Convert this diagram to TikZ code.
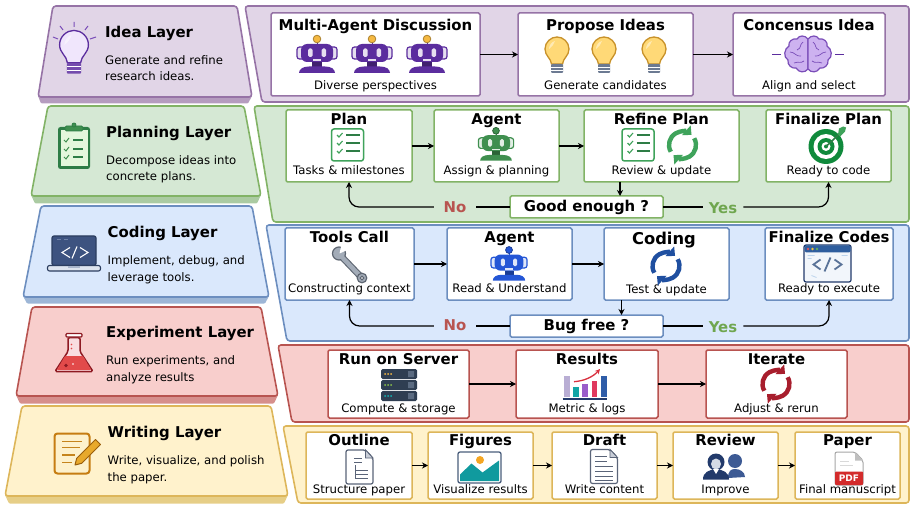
\documentclass[tikz,border=0pt]{standalone}
\usepackage{fontspec}
\setmainfont{DejaVu Sans}
\usepackage{xcolor}
\usetikzlibrary{arrows.meta,positioning,calc}
\definecolor{ideafill}{HTML}{E1D5E7}
\definecolor{ideaedge}{HTML}{9673A6}
\definecolor{ideashade}{HTML}{B59CBF}
\definecolor{planfill}{HTML}{D5E8D4}
\definecolor{planedge}{HTML}{82B366}
\definecolor{planshade}{HTML}{ABCBA2}
\definecolor{codefill}{HTML}{DAE8FC}
\definecolor{codeedge}{HTML}{6C8EBF}
\definecolor{codeshade}{HTML}{9DB6D6}
\definecolor{testfill}{HTML}{F8CECC}
\definecolor{testedge}{HTML}{B85450}
\definecolor{testshade}{HTML}{D68F8C}
\definecolor{writefill}{HTML}{FFF2CC}
\definecolor{writeedge}{HTML}{DDB65A}
\definecolor{writeshade}{HTML}{E6CE87}
\definecolor{nored}{HTML}{B85450}
\definecolor{yesgreen}{HTML}{6FA64F}
\definecolor{botpurple}{HTML}{5B2D9E}
\definecolor{botgreen}{HTML}{3F8F4F}
\definecolor{botblue}{HTML}{2456D6}
\definecolor{ballgold}{HTML}{F5B942}
\definecolor{slategrey}{HTML}{5A6478}
\definecolor{navyblue}{HTML}{223A6B}
\definecolor{tealmark}{HTML}{109A9E}
\definecolor{bulbpale}{HTML}{F0E6FC}
\definecolor{bulbyellow}{HTML}{FFD977}
\definecolor{bulbedge}{HTML}{C8922A}
\definecolor{screwgrey}{HTML}{6C7A92}
\definecolor{clipmint}{HTML}{E4F7DC}
\definecolor{clipdark}{HTML}{2E7D46}
\definecolor{targetgreen}{HTML}{108A3C}
\definecolor{fletchgreen}{HTML}{3FA35B}
\definecolor{wrenchdark}{HTML}{5E6672}
\definecolor{wrenchgrey}{HTML}{A3ACB8}
\definecolor{windowpale}{HTML}{F2F6FB}
\definecolor{windowblue}{HTML}{2F5E9E}
\definecolor{dotred}{HTML}{E0555A}
\definecolor{dotyellow}{HTML}{F0C040}
\definecolor{dotgreen}{HTML}{60B060}
\definecolor{chevronblue}{HTML}{5A7398}
\definecolor{hintblue}{HTML}{BBD3EC}
\definecolor{rackdark}{HTML}{2F3E52}
\definecolor{rackgrey}{HTML}{5A6A80}
\definecolor{ledlime}{HTML}{8BC34A}
\definecolor{ledteal}{HTML}{10B5B5}
\definecolor{barlilac}{HTML}{B9AED4}
\definecolor{barteal}{HTML}{12A5A5}
\definecolor{barviolet}{HTML}{9A5CC9}
\definecolor{barred}{HTML}{E0385E}
\definecolor{barblue}{HTML}{2F5DA8}
\definecolor{trendred}{HTML}{D9303F}
\definecolor{foldgrey}{HTML}{C9CED8}
\definecolor{photoedge}{HTML}{4A5E7C}
\definecolor{sunorange}{HTML}{F5A623}
\definecolor{reviewblue}{HTML}{3D5A94}
\definecolor{facegrey}{HTML}{D5DBE6}
\definecolor{pdfred}{HTML}{D32B2B}
\definecolor{laptopblue}{HTML}{3D5380}
\definecolor{laptopedge}{HTML}{2C3E60}
\definecolor{laptopbar}{HTML}{6F82A8}
\definecolor{laptopbase}{HTML}{DDE4EE}
\definecolor{laptopgrey}{HTML}{A9B6CC}
\definecolor{flaskpale}{HTML}{F9DDE0}
\definecolor{flaskedge}{HTML}{8E1A22}
\definecolor{flaskred}{HTML}{E24A4A}
\definecolor{padpale}{HTML}{FDF1CC}
\definecolor{padedge}{HTML}{C67D12}
\definecolor{padline}{HTML}{C5841C}
\definecolor{pencilgold}{HTML}{E8A92C}
\definecolor{pencildark}{HTML}{9A5F0C}
\definecolor{cycleblue}{HTML}{1F4FA0}
\definecolor{cyclered}{HTML}{A81E2D}
\definecolor{brainfill}{HTML}{CDB2F0}
\definecolor{brainedge}{HTML}{7A4DB8}

\tikzset{
    pics/bot/.style 2 args={code={
        \draw[#1, line width=1pt] (0,-8) -- (0,-14);
        \draw[fill=#2, draw=#2!70!black, line width=.8pt] (0,-15) circle (3.8);
        \draw[#1, line width=1.2pt, fill=#1!15!white, rounded corners=2.5pt] (-20,-7) rectangle (20,5);
        \fill[#1, rounded corners=6pt] (-16,-10) rectangle (16,8);
        \fill[#1!15!white, rounded corners=1.5pt] (-9,-5.5) rectangle (-4.5,3);
        \fill[#1!15!white, rounded corners=1.5pt] (4.5,-5.5) rectangle (9,3);
        \fill[#1!15!white] (-4,5.5) rectangle (4,6.7);
        \fill[#1!70!black] (-5,8) rectangle (5,13);
        \fill[#1] (-18,19) .. controls (-18,15) and (-14,12.5) .. (-8,12.5) -- (8,12.5) .. controls (14,12.5) and (18,15) .. (18,19) -- cycle;
    }},
    pics/bulb/.style n args={3}{code={
        \draw[fill=#1, draw=#2, line width=1.3pt] (-5.5,9) .. controls (-6,3) and (-12,1) .. (-12,-6)
            .. controls (-12,-13) and (-6,-18) .. (0,-18) .. controls (6,-18) and (12,-13) .. (12,-6)
            .. controls (12,1) and (6,3) .. (5.5,9) -- cycle;
        \fill[white, opacity=.45] (-2,-14) .. controls (-6,-13) and (-8,-9) .. (-8,-6) .. controls (-5,-8) and (-3,-11) .. (-2,-14) -- cycle;
        \fill[#3, rounded corners=1pt] (-6,9) rectangle (6,18);
        \draw[white, line width=.7pt] (-6,12) -- (6,12) (-6,15) -- (6,15);
    }},
    pics/brainlobe/.style={code={
        \draw[fill=brainfill, draw=brainedge, line width=1.2pt] (0,-15) .. controls (-3,-19) and (-9,-19) .. (-11,-15)
            .. controls (-16,-16) and (-20,-12) .. (-19,-8) .. controls (-24,-5) and (-25,3) .. (-20,6)
            .. controls (-21,11) and (-16,15) .. (-12,14) .. controls (-9,19) and (-3,19) .. (0,15) -- cycle;
        \draw[brainedge, line width=.7pt] (-5,-12) .. controls (-9,-9) and (-6,-6) .. (-11,-4)
            (-18,-2) .. controls (-13,-2) and (-12,3) .. (-7,2)
            (-4,7) .. controls (-8,10) and (-9,7) .. (-14,9);
        \draw[botpurple, line width=.8pt] (-27,0) -- (-36,0);
    }},
    pics/cycle/.style={code={
        \draw[#1, line width=4.4pt, -{Triangle[length=7pt,width=12.5pt]}] (150:13.5) arc[start angle=150, end angle=312, radius=13.5];
        \draw[#1, line width=4.4pt, -{Triangle[length=7pt,width=12.5pt]}] (330:13.5) arc[start angle=330, end angle=492, radius=13.5];
    }},
    pics/taskbox/.style={code={
        \draw[fill=white, draw=fletchgreen, line width=1.5pt, rounded corners=2.5pt] (-16,-16) rectangle (16,16);
        \draw[fletchgreen, line width=1.1pt] (-10.5,-10) -- (-8.5,-8) -- (-5,-12) (-10.5,-2) -- (-8.5,0) -- (-5,-4) (-10.5,6) -- (-8.5,8) -- (-5,4);
        \draw[clipdark, line width=1.2pt] (-1.5,-10) -- (12,-10) (-1.5,-2) -- (12,-2) (-1.5,6) -- (12,6);
    }},
    pics/clipboard/.style={code={
        \fill[clipdark, rounded corners=2.5pt] (-16,-20) rectangle (16,22);
        \fill[clipmint] (-13.5,-17) rectangle (13.5,19.5);
        \draw[fill=botgreen, draw=clipdark, line width=.8pt, rounded corners=1.5pt] (-9,-21) rectangle (9,-16);
        \draw[fill=botgreen, draw=clipdark, line width=.8pt] (0,-22) circle (2);
        \draw[botgreen, line width=1pt] (-10,-7) -- (-8,-5) -- (-5,-9) (-10,2) -- (-8,4) -- (-5,0) (-10,10) -- (-8,12) -- (-5,8);
        \draw[clipdark, line width=1.2pt] (-1,-7) -- (9,-7) (-1,2) -- (9,2) (-1,10) -- (9,10);
    }},
    pics/target/.style={code={
        \fill[targetgreen] (0,0) circle (17.5);
        \fill[white] (0,0) circle (12.5);
        \fill[targetgreen] (0,0) circle (8.5);
        \fill[white] (0,0) circle (4.5);
        \fill[targetgreen] (0,0) circle (2);
        \draw[clipdark, line width=1.6pt] (0,0) -- (15,-14);
        \fill[fletchgreen] (12,-12) -- (13,-18) -- (17,-20) -- (20,-19) -- (19,-15) -- (14,-10) -- cycle;
    }},
    pics/wrench/.style={code={
        \draw[wrenchdark, line width=6.6pt] (-9,-9) -- (12,13);
        \draw[wrenchdark, fill=wrenchgrey, line width=1.2pt] (-10.5,-11) circle (6.5);
        \draw[wrenchgrey, line width=4.4pt] (-9,-9) -- (12,13);
        \fill[white] (-10,-11) -- (-8,-20) -- (-1,-15) -- cycle;
        \draw[wrenchdark, fill=wrenchgrey, line width=1.2pt] (12.5,13.5) circle (4.8);
        \draw[wrenchdark, fill=white, line width=1pt] (12.5,13.5) circle (1.8);
    }},
    pics/codewindow/.style={code={
        \draw[fill=windowpale, draw=navyblue, line width=1.2pt, rounded corners=2pt] (-23.5,-18.5) rectangle (23.5,18.5);
        \fill[windowblue, rounded corners=1.5pt] (-23,-18) rectangle (23,-11);
        \fill[dotred] (-19.5,-14.5) circle (1.3);
        \fill[dotyellow] (-15,-14.5) circle (1.3);
        \fill[dotgreen] (-10.5,-14.5) circle (1.3);
        \draw[chevronblue, line width=1.8pt] (-7,-4) -- (-14,1) -- (-7,6) (3,-6) -- (-3,8) (7,-4) -- (14,1) -- (7,6);
        \draw[hintblue, line width=.8pt] (-20,-8) -- (-13,-8) (-20,-5) -- (-16,-5) (14,-8) -- (20,-8) (-16,12) -- (-11,14);
    }},
    pics/serverstack/.style={code={
        \fill[rackdark, rounded corners=1.5pt] (-18,-16) rectangle (18,-6);
        \fill[rackdark, rounded corners=1.5pt] (-18,-5) rectangle (18,5);
        \fill[rackdark, rounded corners=1.5pt] (-18,6) rectangle (18,16);
        \fill[ballgold] (-14,-11) circle (1) (-11,-11) circle (1) (-8,-11) circle (1);
        \fill[ledlime] (-14,0) circle (1) (-11,0) circle (1) (-8,0) circle (1);
        \fill[ledteal] (-14,11) circle (1) (-11,11) circle (1) (-8,11) circle (1);
        \fill[rackgrey] (9,-14) rectangle (15,-8) (9,-3) rectangle (15,3) (9,8) rectangle (15,14);
    }},
    pics/barchart/.style={code={
        \fill[barlilac] (-22.7,-8) rectangle (-17,12.7);
        \fill[barteal] (-13.7,2.7) rectangle (-8.3,12.7);
        \fill[barviolet] (-4.7,0) rectangle (1.3,12.7);
        \fill[barred] (5,-3.3) rectangle (10.3,12.7);
        \fill[barblue] (13.7,-8.3) rectangle (19.7,12.7);
        \draw[navyblue, line width=1.2pt] (-24.3,15) -- (20.3,15);
        \draw[trendred, line width=1.3pt, -{Stealth[length=5pt,width=5pt]}] (-13,-2.3) .. controls (-3,-3) and (6,-7) .. (13,-15);
    }},
    pics/sheet/.style={code={
        \draw[fill=white, draw=slategrey, line width=1.2pt, rounded corners=2pt] (-13.5,-17) -- (6,-17) -- (13.5,-9) -- (13.5,17) -- (-13.5,17) -- cycle;
        \draw[fill=foldgrey, draw=slategrey, line width=.8pt] (6,-17) -- (13.5,-9) -- (6,-9) -- cycle;
    }},
    pics/photo/.style={code={
        \draw[fill=white, draw=photoedge, line width=1.3pt, rounded corners=2pt] (-21.5,-15.5) rectangle (21.5,15.5);
        \fill[tealmark] (-19.5,13.5) -- (-19.5,7) -- (-8,-4) -- (3,5) -- (19.5,-7) -- (19.5,13.5) -- cycle;
        \fill[sunorange] (.5,-7.5) circle (4);
    }},
    pics/reviewers/.style={code={
        \fill[reviewblue] (10,-9) circle (7);
        \fill[reviewblue] (3,8) .. controls (3,1) and (6,-1) .. (10,-1) .. controls (15,-1) and (20,2) .. (20,7) -- cycle;
        \fill[white] (-12,10) rectangle (3.5,7);
        \fill[navyblue] (-9,-8) circle (8.5);
        \fill[facegrey] (-9,-6) ellipse (5 and 5.5);
        \fill[navyblue] (-22,9.5) .. controls (-22,2) and (-16,0) .. (-9,-1) .. controls (-2,0) and (4,2) .. (4,9.5) -- cycle;
        \fill[white] (-12,-1) -- (-9,4) -- (-6,-1) -- cycle;
    }},
    pics/pdfsheet/.style={code={
        \draw[fill=white, draw=black!35, line width=1pt, rounded corners=2pt] (-14,-16.5) -- (6,-16.5) -- (14,-8) -- (14,16.5) -- (-14,16.5) -- cycle;
        \fill[black!25] (6,-16.5) -- (14,-8) -- (6,-8) -- cycle;
        \draw[black!15, line width=1pt] (-9,-7) -- (0,-7) (-9,-3) -- (4,-3);
        \fill[pdfred, rounded corners=1pt] (-14,3) rectangle (14,16.5);
        \node[font=\bfseries\fontsize{9}{10}\selectfont, text=white, inner sep=0pt] (pdftag) at (0,10) {PDF};
    }},
    pics/laptop/.style={code={
        \draw[fill=laptopblue, draw=laptopedge, line width=1.2pt, rounded corners=2pt] (-22,-17.5) rectangle (22,12);
        \draw[laptopbar, line width=1pt] (-17,-14) -- (-13,-14) (-10,-14) -- (-6,-14);
        \draw[white, line width=1.1pt] (-4,-6) -- (-12,-1) -- (-4,4) (3,-7) -- (-2,5) (6,-6) -- (14,-1) -- (6,4);
        \draw[fill=laptopbase, draw=laptopedge, line width=1.1pt, rounded corners=2pt] (-26.5,12) rectangle (26.5,17.5);
        \fill[laptopgrey] (-6,12.7) rectangle (6,14.5);
    }},
    pics/flask/.style={code={
        \draw[fill=flaskpale, draw=flaskedge, line width=1.5pt, line join=round, rounded corners=1.5pt] (-6,-17) -- (-6,-3) -- (-19,17) -- (19,17) -- (6,-3) -- (6,-17) -- cycle;
        \fill[flaskred, rounded corners=1pt] (-9,1.5) -- (-17.3,15.7) -- (17.3,15.7) -- (9,1.5) -- cycle;
        \draw[fill=white, draw=flaskedge, line width=1.4pt, rounded corners=1pt] (-8,-21) rectangle (8,-17.5);
        \fill[flaskred] (-2.5,-10) circle (.9) (-2.5,-6) circle (.9);
        \fill[flaskedge] (-8,11) circle (1.8);
        \fill[white] (-1,9.5) circle (.8);
    }},
    pics/notepad/.style={code={
        \draw[fill=padpale, draw=padedge, line width=2pt, rounded corners=3pt] (-17.5,-20) rectangle (17.5,20);
        \draw[padline, line width=1.1pt] (-10,-12) -- (10,-12) (-10,-6) -- (8,-6) (-10,1.5) -- (3,1.5) (-10,9) -- (0,9);
        \draw[fill=pencilgold, draw=pencildark, line width=1pt, line join=round] (3,11.5) -- (4.7,4.8) -- (23.5,-14) -- (28.5,-9) -- (9.7,9.8) -- cycle;
    }}
}

\begin{document}
\begin{tikzpicture}[
    x=1pt, y=-1pt,
    node distance=20pt,
    stagebox/.style={rectangle, rounded corners=1.5pt, draw=#1, line width=1.5pt,
        fill=white, inner sep=0pt, outer sep=0pt},
    ideabox/.style={stagebox=ideaedge, minimum height=83pt},
    planbox/.style={stagebox=planedge, minimum height=72pt},
    codebox/.style={stagebox=codeedge, minimum height=72pt},
    testbox/.style={stagebox=testedge, minimum height=68pt},
    writebox/.style={stagebox=writeedge, minimum height=67pt},
    boxtitle/.style={font=\bfseries\fontsize{14.9}{16}\selectfont, inner sep=0pt,
        text height=11pt, text depth=3pt},
    boxnote/.style={font=\fontsize{11.7}{14}\selectfont, inner sep=0pt,
        text height=9pt, text depth=3pt},
    layertitle/.style={font=\bfseries\fontsize{14.9}{16}\selectfont, inner sep=0pt, anchor=west,
        text height=11pt, text depth=3pt},
    layertext/.style={font=\fontsize{11.7}{16.5}\selectfont, inner sep=0pt, anchor=west, align=left,
        text height=9pt, text depth=3pt},
    panel/.style={rounded corners=3pt, line width=1.6pt},
    question/.style={font=\bfseries\fontsize{14.9}{16}\selectfont, minimum width=153pt, minimum height=22pt},
    nolabel/.style={font=\bfseries\fontsize{14.9}{16}\selectfont, text=nored, inner xsep=9.5pt, inner ysep=0pt},
    yeslabel/.style={font=\bfseries\fontsize{14.9}{16}\selectfont, text=yesgreen, inner xsep=6pt, inner ysep=0pt},
    plainline/.style={line width=1.2pt, draw=black},
    arrow/.style={-{Stealth[length=6pt,width=6pt]}, line width=1.2pt, draw=black},
    looparrow/.style={arrow, rounded corners=10pt}
]
\useasboundingbox (0,0) rectangle (914,508);

% Idea layer
\fill[ideashade, rounded corners=1pt] (38,96) -- (41,103.5) -- (248,103.5) -- (252,96) -- cycle;
\draw[panel, fill=ideafill, draw=ideaedge] (53,6) -- (237,6) -- (252,97) -- (38,97) -- cycle;
\draw[panel, fill=ideafill, draw=ideaedge] (245,6) -- (909,6) -- (909,102) -- (262,102) -- cycle;
\draw[brainedge, line width=1pt] (74,22) -- (74,27) (60,26) -- (63,30) (53,37) -- (58,39) (88,26) -- (85,30) (96,37) -- (90,39);
\pic[scale=1.2] (ideaicon) at (74,52) {bulb={bulbpale}{botpurple}{botpurple!85!white}};
\node[layertitle] (ideahead) at (105,33.5) {Idea Layer};
\node[layertext] (ideatext) at (105,78) {Generate and refine\\research ideas.};

\node[ideabox, minimum width=209pt] (discussion) at (375.5,54.5) {};
\node[ideabox, minimum width=175pt, right=38pt of discussion] (propose) {};
\node[ideabox, minimum width=152pt, right=40pt of propose] (consensus) {};
\node[boxtitle, below=6.7pt of discussion.north] (discussionhead) {Multi-Agent Discussion};
\node[boxnote, above=3pt of discussion.south] (discussionnote) {Diverse perspectives};
\node[boxtitle, below=6.7pt of propose.north] (proposehead) {Propose Ideas};
\node[boxnote, above=3pt of propose.south] (proposenote) {Generate candidates};
\node[boxtitle, below=6.7pt of consensus.north] (consensushead) {Concensus Idea};
\node[boxnote, above=3pt of consensus.south] (consensusnote) {Align and select};
\pic (botone) at (317,54) {bot={botpurple}{ballgold}};
\pic (bottwo) at (372,54) {bot={botpurple}{ballgold}};
\pic (botthree) at (427,54) {bot={botpurple}{ballgold}};
\pic (bulbone) at (557,55) {bulb={bulbyellow}{bulbedge}{screwgrey}};
\pic (bulbtwo) at (604,55) {bulb={bulbyellow}{bulbedge}{screwgrey}};
\pic (bulbthree) at (654,55) {bulb={bulbyellow}{bulbedge}{screwgrey}};
\pic (brainleft) at (808,54) {brainlobe};
\pic[xscale=-1] (brainright) at (808,54) {brainlobe};
\draw[arrow] (discussion) -- (propose);
\draw[arrow] (propose) -- (consensus);

% Planning layer
\fill[planshade, rounded corners=1pt] (31,195) -- (35,203.5) -- (257,203.5) -- (261,195) -- cycle;
\draw[panel, fill=planfill, draw=planedge] (48,106) -- (244,106) -- (261,196) -- (31,196) -- cycle;
\draw[panel, fill=planfill, draw=planedge] (254,106) -- (909,106) -- (909,222) -- (273,222) -- cycle;
\pic (planicon) at (74,147) {clipboard};
\node[layertitle] (planhead) at (106,133.5) {Planning Layer};
\node[layertext] (plantext) at (106,178) {Decompose ideas into\\concrete plans.};

\node[planbox, minimum width=126pt] (plan) at (349,146) {};
\node[planbox, minimum width=125pt, right=22pt of plan] (planagent) {};
\node[planbox, minimum width=155pt, right=25pt of planagent] (refine) {};
\node[planbox, minimum width=125pt, right=27pt of refine] (finalplan) {};
\node[boxtitle, below=3pt of plan.north] (planboxhead) {Plan};
\node[boxnote, above=4pt of plan.south] (planboxnote) {Tasks \& milestones};
\node[boxtitle, below=3pt of planagent.north] (planagenthead) {Agent};
\node[boxnote, above=4pt of planagent.south] (planagentnote) {Assign \& planning};
\node[boxtitle, below=3pt of refine.north] (refinehead) {Refine Plan};
\node[boxnote, above=4pt of refine.south] (refinenote) {Review \& update};
\node[boxtitle, below=3pt of finalplan.north] (finalplanhead) {Finalize Plan};
\node[boxnote, above=4pt of finalplan.south] (finalplannote) {Ready to code};
\node[stagebox=planedge, question] (good) at (586.5,207) {Good enough ?};
\node[nolabel] (planno) at (455,207) {No};
\node[yeslabel] (planyes) at (723,208.5) {Yes};
\coordinate (refinedrop) at (620,182);
\pic (plantasks) at (347.5,145) {taskbox};
\pic[scale=.88] (planbot) at (496,144) {bot={botgreen}{botgreen}};
\pic (refinetasks) at (638,145) {taskbox};
\pic (refinecycle) at (682.5,145) {cycle=fletchgreen};
\pic (finaltarget) at (826,146.5) {target};
\draw[arrow] (plan) -- (planagent);
\draw[arrow] (planagent) -- (refine);
\draw[arrow] (refinedrop) -- (refinedrop |- good.north);
\draw[plainline] (good.west) -- (good.west -| planno.east);
\draw[looparrow] (good.west -| planno.west) -| (plan.south);
\draw[plainline] (good.east) -- (good.east -| planyes.west);
\draw[looparrow] (good.east -| planyes.east) -| (finalplan.south);

% Coding layer
\fill[codeshade, rounded corners=1pt] (23,296) -- (27,303.5) -- (265,303.5) -- (269,296) -- cycle;
\draw[panel, fill=codefill, draw=codeedge] (41,206) -- (252,206) -- (269,297) -- (23,297) -- cycle;
\draw[panel, fill=codefill, draw=codeedge] (266,225) -- (909,225) -- (909,341) -- (287,341) -- cycle;
\pic (codeicon) at (74,253.5) {laptop};
\node[layertitle] (codehead) at (107.5,233.5) {Coding Layer};
\node[layertext] (codetext) at (107.5,278) {Implement, debug, and\\leverage tools.};

\node[codebox, minimum width=129pt] (tools) at (349.5,264) {};
\node[codebox, minimum width=125pt, right=33pt of tools] (codeagent) {};
\node[codebox, minimum width=125pt, right=32pt of codeagent] (coding) {};
\node[codebox, minimum width=128pt, right=36pt of coding] (finalcode) {};
\node[boxtitle, below=3pt of tools.north] (toolshead) {Tools Call};
\node[boxnote, above=4pt of tools.south] (toolsnote) {Constructing context};
\node[boxtitle, below=3pt of codeagent.north] (codeagenthead) {Agent};
\node[boxnote, above=4pt of codeagent.south] (codeagentnote) {Read \& Understand};
\node[boxtitle, below=5pt of coding.north, xshift=-2.5pt, font=\bfseries\fontsize{16.3}{18}\selectfont] (codinghead) {Coding};
\node[boxnote, above=3pt of coding.south] (codingnote) {Test \& update};
\node[boxtitle, below=3pt of finalcode.north] (finalcodehead) {Finalize Codes};
\node[boxnote, above=4pt of finalcode.south] (finalcodenote) {Ready to execute};
\node[stagebox=codeedge, question] (bugfree) at (586.5,326) {Bug free ?};
\node[nolabel] (codeno) at (455,325) {No};
\node[yeslabel] (codeyes) at (723,327.5) {Yes};
\coordinate (codingdrop) at (621.5,300);
\pic (toolwrench) at (349.5,264.5) {wrench};
\pic[scale=.9] (codebot) at (509,263.5) {bot={botblue}{botblue}};
\pic (codingcycle) at (666,266) {cycle=cycleblue};
\pic (finalwindow) at (827.5,263.5) {codewindow};
\draw[arrow] (tools) -- (codeagent);
\draw[arrow] (codeagent) -- (coding);
\draw[arrow] (codingdrop) -- (codingdrop |- bugfree.north);
\draw[plainline] (bugfree.west) -- (bugfree.west -| codeno.east);
\draw[looparrow] (bugfree.west -| codeno.west) -| (tools.south);
\draw[plainline] (bugfree.east) -- (bugfree.east -| codeyes.west);
\draw[looparrow] (bugfree.east -| codeyes.east) -| (finalcode.south);

% Experiment layer
\fill[testshade, rounded corners=1pt] (16,395) -- (20,403.5) -- (274,403.5) -- (278,395) -- cycle;
\draw[panel, fill=testfill, draw=testedge] (32,307) -- (261,307) -- (278,396) -- (16,396) -- cycle;
\draw[panel, fill=testfill, draw=testedge] (278,345) -- (909,345) -- (909,422) -- (292,422) -- cycle;
\pic (testicon) at (74,354.5) {flask};
\node[layertitle] (testhead) at (106,333.5) {Experiment Layer};
\node[layertext] (testtext) at (106,378) {Run experiments, and\\analyze results};

\node[testbox, minimum width=141pt] (server) at (398.5,384) {};
\node[testbox, minimum width=142pt, right=47pt of server] (results) {};
\node[testbox, minimum width=141pt, right=48pt of results] (iterate) {};
\node[boxtitle, below=3pt of server.north] (serverhead) {Run on Server};
\node[boxnote, above=2pt of server.south] (servernote) {Compute \& storage};
\node[boxtitle, below=3pt of results.north] (resultshead) {Results};
\node[boxnote, above=2pt of results.south] (resultsnote) {Metric \& logs};
\node[boxtitle, below=3pt of iterate.north] (iteratehead) {Iterate};
\node[boxnote, above=2pt of iterate.south] (iteratenote) {Adjust \& rerun};
\pic (racks) at (399,385) {serverstack};
\pic (metrics) at (587,384) {barchart};
\pic (iteratecycle) at (776,384) {cycle=cyclered};
\draw[arrow] (server) -- (results);
\draw[arrow] (results) -- (iterate);

% Writing layer
\fill[writeshade, rounded corners=1pt] (5,495) -- (9,503.5) -- (284,503.5) -- (288,495) -- cycle;
\draw[panel, fill=writefill, draw=writeedge] (22,406) -- (271,406) -- (288,496) -- (5,496) -- cycle;
\draw[panel, fill=writefill, draw=writeedge] (283,426) -- (909,426) -- (909,503) -- (298,503) -- cycle;
\pic (writeicon) at (72,453.5) {notepad};
\node[layertitle] (writehead) at (107.5,433.5) {Writing Layer};
\node[layertext] (writetext) at (107.5,478) {Write, visualize, and polish\\the paper.};

\node[writebox, minimum width=106pt] (outline) at (359,465.5) {};
\node[writebox, minimum width=105pt, right=16pt of outline] (figures) {};
\node[writebox, minimum width=105pt, right=19pt of figures] (draft) {};
\node[writebox, minimum width=105pt, right=16pt of draft] (review) {};
\node[writebox, minimum width=105pt, right=17pt of review] (paper) {};
\node[boxtitle, below=2pt of outline.north] (outlinehead) {Outline};
\node[boxnote, above=2pt of outline.south] (outlinenote) {Structure paper};
\node[boxtitle, below=2pt of figures.north] (figureshead) {Figures};
\node[boxnote, above=2pt of figures.south] (figuresnote) {Visualize results};
\node[boxtitle, below=2pt of draft.north] (drafthead) {Draft};
\node[boxnote, above=2pt of draft.south] (draftnote) {Write content};
\node[boxtitle, below=2pt of review.north] (reviewhead) {Review};
\node[boxnote, above=2pt of review.south] (reviewnote) {Improve};
\node[boxtitle, below=2pt of paper.north] (paperhead) {Paper};
\node[boxnote, above=2pt of paper.south] (papernote) {Final manuscript};
\pic (outlinesheet) at (359.5,467) {sheet};
\draw[slategrey, line width=.9pt] (354,458) -- (362,458) (354,462) -- (362,462) (355,465) -- (355,478) (355,470) -- (368,470) (355,474) -- (368,474) (355,478) -- (368,478);
\pic (figurephoto) at (479.5,467.5) {photo};
\pic (draftsheet) at (604,466.5) {sheet};
\draw[slategrey, line width=.9pt] (595,456) -- (607,456) (595,461) -- (607,461) (595,466) -- (613,466) (595,471) -- (613,471) (595,476) -- (613,476) (595,480) -- (613,480);
\pic (people) at (725,470) {reviewers};
\pic (pdficon) at (849,468.5) {pdfsheet};
\draw[arrow] (outline) -- (figures);
\draw[arrow] (figures) -- (draft);
\draw[arrow] (draft) -- (review);
\draw[arrow] (review) -- (paper);

\end{tikzpicture}
\end{document}
